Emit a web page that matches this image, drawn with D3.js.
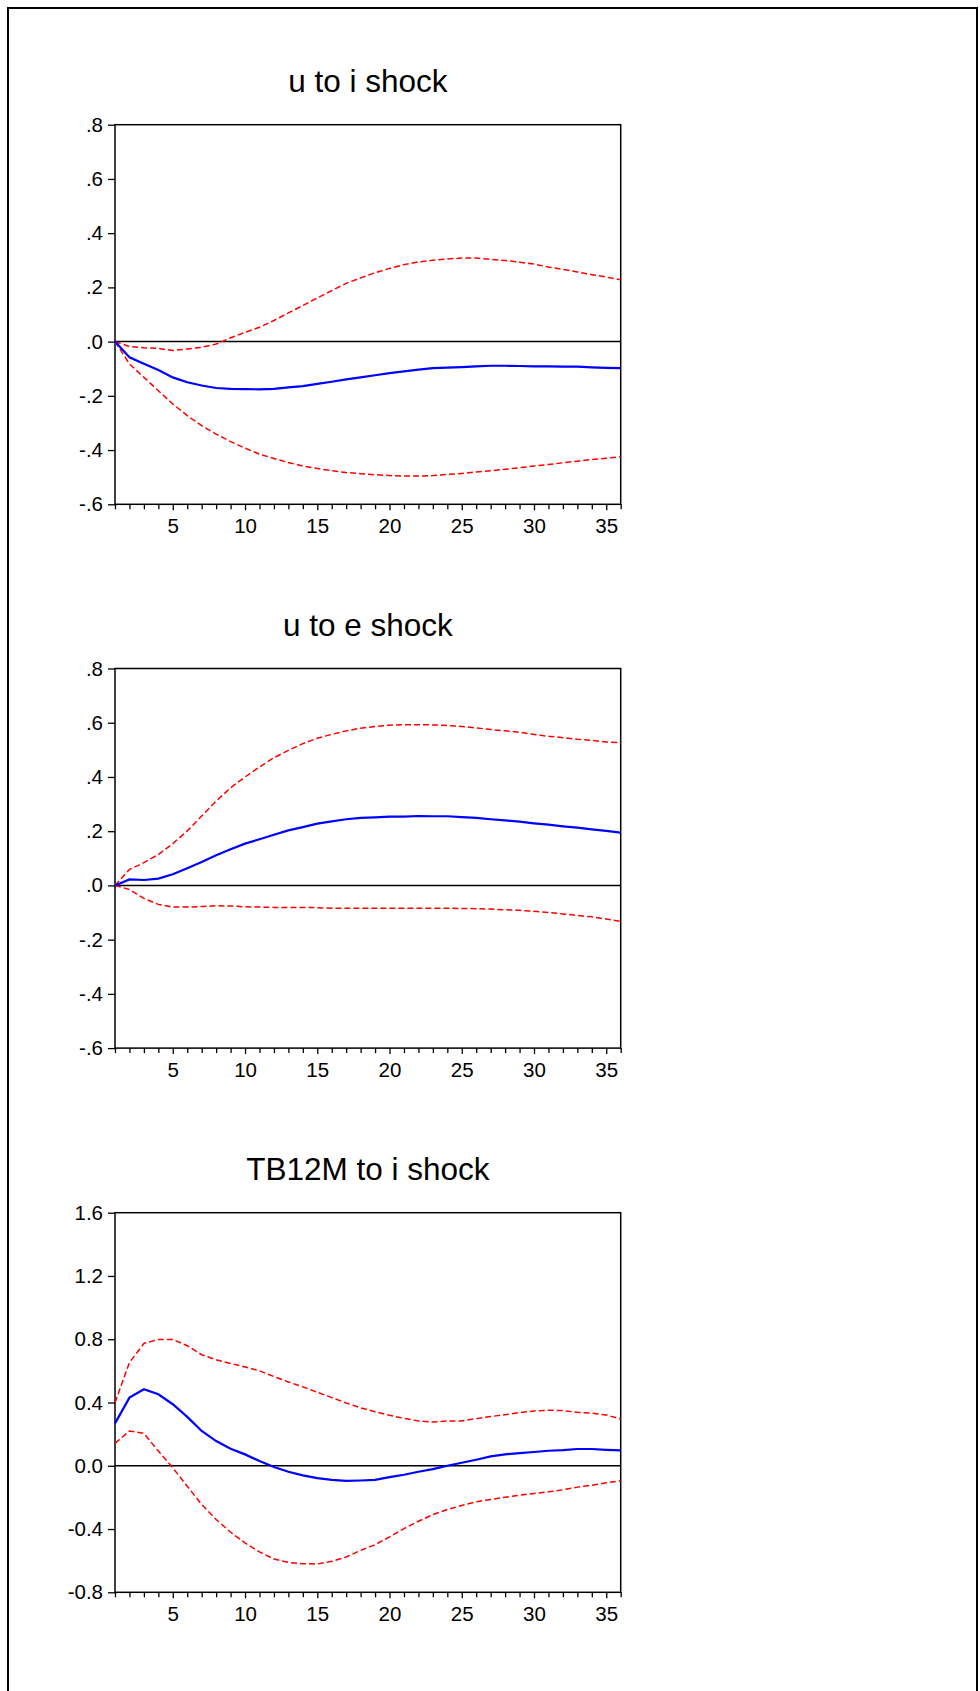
<!DOCTYPE html>
<html>
<head>
<meta charset="utf-8">
<script src="https://cdnjs.cloudflare.com/ajax/libs/d3/7.8.5/d3.min.js"></script>
<style>
  html, body { margin: 0; padding: 0; background: #fff; }
  svg { display: block; }
  text { font-family: "Liberation Sans", Arial, Helvetica, sans-serif; fill: #000; }
</style>
</head>
<body>
<svg id="chart" width="980" height="1691"></svg>
<script>
// ---------- DATA ----------
const periods = [1,2,3,4,5,6,7,8,9,10,11,12,13,14,15,16,17,18,19,20,21,22,23,24,25,26,27,28,29,30,31,32,33,34,35,36];
const xTickLabels = [5,10,15,20,25,30,35];

const titles = ["u to i shock", "u to e shock", "TB12M to i shock"];

// Panel 1: u to i shock
const uiResponse = [0,-0.058,-0.082,-0.105,-0.132,-0.150,-0.162,-0.171,-0.174,-0.175,-0.176,-0.174,-0.169,-0.164,-0.156,-0.148,-0.139,-0.132,-0.124,-0.116,-0.110,-0.103,-0.098,-0.096,-0.094,-0.091,-0.089,-0.089,-0.090,-0.091,-0.091,-0.092,-0.092,-0.095,-0.097,-0.098];
const uiUpper = [0,-0.018,-0.023,-0.025,-0.033,-0.027,-0.021,-0.009,0.014,0.034,0.053,0.078,0.106,0.133,0.161,0.188,0.215,0.235,0.254,0.270,0.284,0.294,0.300,0.305,0.308,0.308,0.303,0.299,0.293,0.286,0.275,0.266,0.257,0.247,0.238,0.228];
const uiLower = [0,-0.082,-0.132,-0.181,-0.230,-0.273,-0.310,-0.341,-0.369,-0.393,-0.415,-0.431,-0.446,-0.459,-0.468,-0.476,-0.483,-0.487,-0.491,-0.494,-0.496,-0.496,-0.494,-0.490,-0.486,-0.481,-0.476,-0.471,-0.465,-0.459,-0.453,-0.447,-0.441,-0.435,-0.430,-0.425];

// Panel 2: u to e shock
const ueResponse = [0,0.022,0.020,0.025,0.041,0.063,0.086,0.111,0.133,0.154,0.170,0.187,0.203,0.215,0.228,0.236,0.244,0.249,0.251,0.254,0.254,0.256,0.255,0.255,0.252,0.249,0.244,0.240,0.235,0.229,0.224,0.218,0.213,0.207,0.201,0.195];
const ueUpper = [0,0.059,0.084,0.114,0.154,0.201,0.256,0.311,0.360,0.400,0.437,0.471,0.498,0.523,0.543,0.557,0.570,0.580,0.586,0.591,0.593,0.593,0.592,0.590,0.586,0.581,0.575,0.570,0.565,0.557,0.550,0.545,0.539,0.535,0.529,0.526];
const ueLower = [0,-0.015,-0.048,-0.070,-0.080,-0.080,-0.078,-0.075,-0.076,-0.079,-0.080,-0.081,-0.081,-0.081,-0.082,-0.084,-0.084,-0.084,-0.084,-0.084,-0.084,-0.084,-0.084,-0.084,-0.085,-0.086,-0.087,-0.090,-0.092,-0.095,-0.100,-0.105,-0.111,-0.116,-0.124,-0.133];

// Panel 3: TB12M to i shock
const tbResponse = [0.268,0.431,0.484,0.452,0.389,0.309,0.220,0.156,0.108,0.072,0.030,-0.008,-0.038,-0.061,-0.078,-0.089,-0.095,-0.093,-0.089,-0.072,-0.057,-0.038,-0.021,0.000,0.019,0.038,0.059,0.072,0.080,0.087,0.095,0.099,0.106,0.106,0.101,0.097];
const tbUpper = [0.399,0.653,0.773,0.799,0.799,0.759,0.702,0.670,0.647,0.625,0.600,0.564,0.530,0.499,0.465,0.431,0.397,0.366,0.342,0.319,0.300,0.283,0.277,0.283,0.283,0.298,0.311,0.323,0.336,0.347,0.351,0.349,0.338,0.332,0.321,0.296];
const tbLower = [0.142,0.220,0.205,0.093,-0.013,-0.129,-0.245,-0.340,-0.420,-0.488,-0.545,-0.590,-0.611,-0.619,-0.621,-0.604,-0.577,-0.535,-0.499,-0.450,-0.397,-0.351,-0.309,-0.277,-0.251,-0.228,-0.213,-0.199,-0.186,-0.175,-0.165,-0.152,-0.135,-0.123,-0.108,-0.095];

// Y ticks
const yTicksA = [-0.6,-0.4,-0.2,0,0.2,0.4,0.6,0.8];
const yLabelsA = ["-.6","-.4","-.2",".0",".2",".4",".6",".8"];
const yTicksB = [-0.8,-0.4,0,0.4,0.8,1.2,1.6];
const yLabelsB = ["-0.8","-0.4","0.0","0.4","0.8","1.2","1.6"];

// ---------- BUILD ----------
const panels = [
  { title: titles[0], resp: uiResponse, up: uiUpper, lo: uiLower, ticks: yTicksA, labels: yLabelsA },
  { title: titles[1], resp: ueResponse, up: ueUpper, lo: ueLower, ticks: yTicksA, labels: yLabelsA },
  { title: titles[2], resp: tbResponse, up: tbUpper, lo: tbLower, ticks: yTicksB, labels: yLabelsB }
];

const svg = d3.select("#chart");
svg.append("rect").attr("width", 980).attr("height", 1691).attr("fill", "#fff");

// outer frame (left, top, right)
svg.append("path")
  .attr("d", "M8,1691 V8 H977 V1691")
  .attr("fill", "none").attr("stroke", "#000").attr("stroke-width", 2);

const left = 115, right = 620.7, plotH = 379.6;
const tops = [124.7, 668.5, 1212.7];

const x = d3.scaleLinear().domain([periods[0], periods[periods.length - 1]]).range([left, right]);

panels.forEach((p, k) => {
  const top = tops[k], bottom = top + plotH;
  const y = d3.scaleLinear()
    .domain([p.ticks[0], p.ticks[p.ticks.length - 1]])
    .range([bottom, top]);
  const g = svg.append("g");

  // title
  g.append("text")
    .attr("x", (left + right) / 2)
    .attr("y", top - 32.5)
    .attr("text-anchor", "middle")
    .attr("font-size", 31.5)
    .text(p.title);

  // y axis
  const yAxis = d3.axisLeft(y)
    .tickValues(p.ticks)
    .tickFormat((d, i) => p.labels[i])
    .tickSizeInner(7).tickSizeOuter(0).tickPadding(5);
  const ya = g.append("g").attr("transform", `translate(${left},0)`).call(yAxis);
  ya.select(".domain").remove();
  ya.selectAll("line").attr("stroke", "#000").attr("stroke-width", 1.3);
  ya.selectAll("text").attr("font-size", 20.5).attr("font-family", "Liberation Sans, Arial, sans-serif").attr("fill", "#000");

  // x axis
  const xAxis = d3.axisBottom(x)
    .tickValues(periods)
    .tickFormat(d => xTickLabels.includes(d) ? String(d) : "")
    .tickSizeInner(5).tickSizeOuter(0).tickPadding(9);
  const xa = g.append("g").attr("transform", `translate(0,${bottom})`).call(xAxis);
  xa.select(".domain").remove();
  xa.selectAll("line").attr("stroke", "#000").attr("stroke-width", 1.3);
  xa.selectAll(".tick").filter(d => xTickLabels.includes(d)).select("line").attr("y2", 6);
  xa.selectAll("text").attr("font-size", 20.5).attr("font-family", "Liberation Sans, Arial, sans-serif").attr("fill", "#000");

  // plot box
  g.append("rect")
    .attr("x", left).attr("y", top)
    .attr("width", right - left).attr("height", plotH)
    .attr("fill", "none").attr("stroke", "#000").attr("stroke-width", 1.5);

  // zero line
  g.append("line")
    .attr("x1", left).attr("x2", right)
    .attr("y1", y(0)).attr("y2", y(0))
    .attr("stroke", "#000").attr("stroke-width", 1.5);

  const line = d3.line().x((d, i) => x(periods[i])).y(d => y(d));

  [p.up, p.lo].forEach(arr => {
    g.append("path").datum(arr)
      .attr("d", line)
      .attr("fill", "none")
      .attr("stroke", "#ff0000")
      .attr("stroke-width", 1.5)
      .attr("stroke-dasharray", "6,3");
  });

  g.append("path").datum(p.resp)
    .attr("d", line)
    .attr("fill", "none")
    .attr("stroke", "#0000ff")
    .attr("stroke-width", 2.2);
});
</script>
</body>
</html>
